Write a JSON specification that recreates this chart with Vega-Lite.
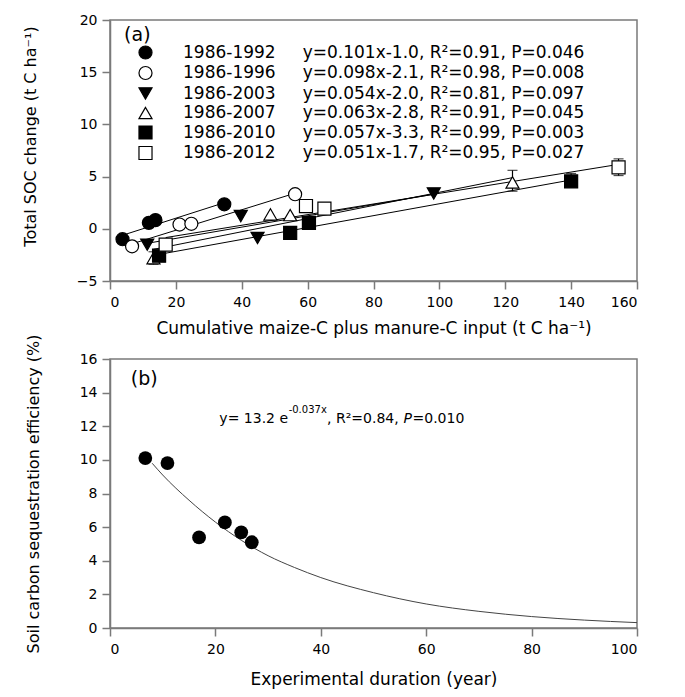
{
  "$schema": "https://vega.github.io/schema/vega-lite/v6.json",
  "background": "white",
  "padding": {"left": 21, "top": 12, "right": 5, "bottom": 5},
  "bounds": "flush",
  "spacing": 78,
  "config": {
    "font": "DejaVu Sans",
    "view": {"stroke": "#7a7a7a", "strokeWidth": 1.5},
    "axis": {
      "grid": false, "domainColor": "#7a7a7a", "domainWidth": 1.5,
      "tickColor": "#7a7a7a", "tickWidth": 1.5, "tickSize": 8, "labelOverlap": false,
      "labelFont": "DejaVu Sans", "labelFontSize": 14, "labelColor": "black", "labelPadding": 5,
      "titleFont": "DejaVu Sans", "titleFontWeight": "normal", "titleColor": "black"
    },
    "legend": {
      "title": null, "padding": 0,
      "labelFontSize": 17, "labelFont": "DejaVu Sans", "labelLimit": 700, "labelColor": "black",
      "symbolSize": 170, "symbolStrokeWidth": 1.2, "rowPadding": 1.5, "labelOffset": 29
    }
  },
  "datasets": {
    "pts": [
      {"period": "1986-1992", "x": 3.8, "y": -1.0},
      {"period": "1986-1992", "x": 11.8, "y": 0.57},
      {"period": "1986-1992", "x": 13.8, "y": 0.83},
      {"period": "1986-1992", "x": 34.7, "y": 2.35},
      {"period": "1986-1996", "x": 6.7, "y": -1.68},
      {"period": "1986-1996", "x": 21.1, "y": 0.41},
      {"period": "1986-1996", "x": 24.7, "y": 0.48},
      {"period": "1986-1996", "x": 56.2, "y": 3.31},
      {"period": "1986-2003", "x": 11.3, "y": -1.52},
      {"period": "1986-2003", "x": 39.7, "y": 1.22},
      {"period": "1986-2003", "x": 44.8, "y": -0.88},
      {"period": "1986-2003", "x": 98.3, "y": 3.38},
      {"period": "1986-2007", "x": 13.2, "y": -2.81},
      {"period": "1986-2007", "x": 48.7, "y": 1.38},
      {"period": "1986-2007", "x": 54.7, "y": 1.31},
      {"period": "1986-2007", "x": 122.2, "y": 4.44},
      {"period": "1986-2010", "x": 14.9, "y": -2.58},
      {"period": "1986-2010", "x": 54.7, "y": -0.39},
      {"period": "1986-2010", "x": 60.4, "y": 0.57},
      {"period": "1986-2010", "x": 140.0, "y": 4.54},
      {"period": "1986-2012", "x": 16.9, "y": -1.52},
      {"period": "1986-2012", "x": 59.5, "y": 2.18},
      {"period": "1986-2012", "x": 65.1, "y": 1.93},
      {"period": "1986-2012", "x": 154.4, "y": 5.89}
    ],
    "fits": [
      {"period": "1986-1992", "x": 3.8, "y": -0.62},
      {"period": "1986-1992", "x": 34.7, "y": 2.5},
      {"period": "1986-1996", "x": 6.7, "y": -1.44},
      {"period": "1986-1996", "x": 56.2, "y": 3.41},
      {"period": "1986-2003", "x": 11.3, "y": -1.39},
      {"period": "1986-2003", "x": 98.3, "y": 3.31},
      {"period": "1986-2007", "x": 13.2, "y": -1.97},
      {"period": "1986-2007", "x": 122.2, "y": 4.9},
      {"period": "1986-2010", "x": 14.9, "y": -2.45},
      {"period": "1986-2010", "x": 140.0, "y": 4.68},
      {"period": "1986-2012", "x": 16.9, "y": -0.84},
      {"period": "1986-2012", "x": 154.4, "y": 6.17}
    ],
    "errs": [
      {"period": "1986-2007", "x": 13.2, "lo": -3.4, "hi": -2.2},
      {"period": "1986-2010", "x": 54.7, "lo": -0.95, "hi": 0.1},
      {"period": "1986-2007", "x": 122.2, "lo": 3.6, "hi": 5.6},
      {"period": "1986-2010", "x": 140.0, "lo": 4.3, "hi": 5.3},
      {"period": "1986-2012", "x": 154.4, "lo": 5.1, "hi": 6.7}
    ],
    "eff": [
      {"x": 6.7, "y": 10.11},
      {"x": 10.9, "y": 9.81},
      {"x": 16.9, "y": 5.39},
      {"x": 21.8, "y": 6.28},
      {"x": 24.9, "y": 5.69},
      {"x": 26.9, "y": 5.1}
    ],
    "curve": [
      {"x": 8, "y": 9.8},
      {"x": 10, "y": 9.1},
      {"x": 15, "y": 7.6},
      {"x": 20, "y": 6.3},
      {"x": 25, "y": 5.2},
      {"x": 30, "y": 4.3},
      {"x": 35, "y": 3.6},
      {"x": 40, "y": 3.0},
      {"x": 50, "y": 2.1},
      {"x": 60, "y": 1.43},
      {"x": 70, "y": 0.99},
      {"x": 80, "y": 0.68},
      {"x": 90, "y": 0.47},
      {"x": 100, "y": 0.32}
    ]
  },
  "vconcat": [
    {
      "width": 527,
      "height": 261,
      "layer": [
        {
          "data": {"name": "fits"},
          "mark": {"type": "line", "color": "black", "strokeWidth": 1},
          "encoding": {
            "x": {"field": "x", "type": "quantitative", "scale": {"domain": [0, 160], "nice": false},
                  "axis": {"values": [0, 20, 40, 60, 80, 100, 120, 140, 160], "title": "Cumulative maize-C plus manure-C input (t C ha⁻¹)", "titleFontSize": 17, "labelPadding": 6, "titlePadding": 11}},
            "y": {"field": "y", "type": "quantitative", "scale": {"domain": [-5, 20], "nice": false, "zero": false},
                  "axis": {"values": [-5, 0, 5, 10, 15, 20], "title": "Total SOC change (t C ha⁻¹)", "titleFontSize": 16, "titlePadding": 38, "titleY": 116}},
            "detail": {"field": "period"}
          }
        },
        {
          "data": {"name": "errs"},
          "mark": {"type": "errorbar", "color": "black", "size": 10, "thickness": 1.2, "ticks": true},
          "encoding": {
            "x": {"field": "x", "type": "quantitative", "title": "Cumulative maize-C plus manure-C input (t C ha⁻¹)"},
            "y": {"field": "lo", "type": "quantitative", "title": "Total SOC change (t C ha⁻¹)"},
            "y2": {"field": "hi"}
          }
        },
        {
          "data": {"name": "pts"},
          "mark": {"type": "point", "filled": true, "size": 170, "strokeWidth": 1.2, "opacity": 1},
          "encoding": {
            "x": {"field": "x", "type": "quantitative", "title": "Cumulative maize-C plus manure-C input (t C ha⁻¹)"},
            "y": {"field": "y", "type": "quantitative", "title": "Total SOC change (t C ha⁻¹)"},
            "shape": {"field": "period", "type": "nominal",
              "scale": {"domain": ["1986-1992", "1986-1996", "1986-2003", "1986-2007", "1986-2010", "1986-2012"], "range": ["circle", "circle", "triangle-down", "triangle-up", "square", "square"]},
              "legend": {"orient": "none", "legendX": 27, "legendY": 24,
                "labelExpr": "datum.label=='1986-1992' ? '1986-1992\u00a0\u00a0\u00a0\u00a0\u00a0y=0.101x-1.0, R²=0.91, P=0.046' : datum.label=='1986-1996' ? '1986-1996\u00a0\u00a0\u00a0\u00a0\u00a0y=0.098x-2.1, R²=0.98, P=0.008' : datum.label=='1986-2003' ? '1986-2003\u00a0\u00a0\u00a0\u00a0\u00a0y=0.054x-2.0, R²=0.81, P=0.097' : datum.label=='1986-2007' ? '1986-2007\u00a0\u00a0\u00a0\u00a0\u00a0y=0.063x-2.8, R²=0.91, P=0.045' : datum.label=='1986-2010' ? '1986-2010\u00a0\u00a0\u00a0\u00a0\u00a0y=0.057x-3.3, R²=0.99, P=0.003' : '1986-2012\u00a0\u00a0\u00a0\u00a0\u00a0y=0.051x-1.7, R²=0.95, P=0.027'"}},
            "fill": {"field": "period", "type": "nominal",
              "scale": {"domain": ["1986-1992", "1986-1996", "1986-2003", "1986-2007", "1986-2010", "1986-2012"], "range": ["black", "white", "black", "white", "black", "white"]},
              "legend": {"orient": "none", "legendX": 27, "legendY": 24,
                "labelExpr": "datum.label=='1986-1992' ? '1986-1992\u00a0\u00a0\u00a0\u00a0\u00a0y=0.101x-1.0, R²=0.91, P=0.046' : datum.label=='1986-1996' ? '1986-1996\u00a0\u00a0\u00a0\u00a0\u00a0y=0.098x-2.1, R²=0.98, P=0.008' : datum.label=='1986-2003' ? '1986-2003\u00a0\u00a0\u00a0\u00a0\u00a0y=0.054x-2.0, R²=0.81, P=0.097' : datum.label=='1986-2007' ? '1986-2007\u00a0\u00a0\u00a0\u00a0\u00a0y=0.063x-2.8, R²=0.91, P=0.045' : datum.label=='1986-2010' ? '1986-2010\u00a0\u00a0\u00a0\u00a0\u00a0y=0.057x-3.3, R²=0.99, P=0.003' : '1986-2012\u00a0\u00a0\u00a0\u00a0\u00a0y=0.051x-1.7, R²=0.95, P=0.027'"}},
            "stroke": {"field": "period", "type": "nominal",
              "scale": {"domain": ["1986-1992", "1986-1996", "1986-2003", "1986-2007", "1986-2010", "1986-2012"], "range": ["black", "black", "black", "black", "black", "black"]},
              "legend": {"orient": "none", "legendX": 27, "legendY": 24,
                "labelExpr": "datum.label=='1986-1992' ? '1986-1992\u00a0\u00a0\u00a0\u00a0\u00a0y=0.101x-1.0, R²=0.91, P=0.046' : datum.label=='1986-1996' ? '1986-1996\u00a0\u00a0\u00a0\u00a0\u00a0y=0.098x-2.1, R²=0.98, P=0.008' : datum.label=='1986-2003' ? '1986-2003\u00a0\u00a0\u00a0\u00a0\u00a0y=0.054x-2.0, R²=0.81, P=0.097' : datum.label=='1986-2007' ? '1986-2007\u00a0\u00a0\u00a0\u00a0\u00a0y=0.063x-2.8, R²=0.91, P=0.045' : datum.label=='1986-2010' ? '1986-2010\u00a0\u00a0\u00a0\u00a0\u00a0y=0.057x-3.3, R²=0.99, P=0.003' : '1986-2012\u00a0\u00a0\u00a0\u00a0\u00a0y=0.051x-1.7, R²=0.95, P=0.027'"}}
          }
        },
        {
          "data": {"values": [{"t": "(a)"}]},
          "mark": {"type": "text", "fontSize": 19, "align": "center", "baseline": "middle", "color": "black"},
          "encoding": {"x": {"datum": 8.3}, "y": {"datum": 18.6}, "text": {"field": "t"}}
        }
      ]
    },
    {
      "width": 527,
      "height": 269,
      "encoding": {
        "x": {"type": "quantitative", "scale": {"domain": [0, 100], "nice": false},
              "axis": {"values": [0, 20, 40, 60, 80, 100], "labelOverlap": false, "title": "Experimental duration (year)", "titleFontSize": 17, "labelPadding": 6, "titlePadding": 15}},
        "y": {"type": "quantitative", "scale": {"domain": [0, 16], "nice": false},
              "axis": {"values": [0, 2, 4, 6, 8, 10, 12, 14, 16], "tickCount": 9, "labelOverlap": false, "title": "Soil carbon sequestration efficiency (%)", "titleFontSize": 16, "titlePadding": 38}}
      },
      "layer": [
        {
          "data": {"name": "curve"},
          "mark": {"type": "line", "color": "#444444", "strokeWidth": 1, "interpolate": "monotone"},
          "encoding": {"x": {"field": "x"}, "y": {"field": "y"}}
        },
        {
          "data": {"name": "eff"},
          "mark": {"type": "circle", "size": 190, "color": "black", "opacity": 1},
          "encoding": {"x": {"field": "x"}, "y": {"field": "y"}}
        },
        {
          "data": {"values": [{"t": "(b)"}]},
          "mark": {"type": "text", "fontSize": 19, "align": "center", "baseline": "middle", "color": "black"},
          "encoding": {"x": {"datum": 6.5}, "y": {"datum": 14.8}, "text": {"field": "t"}}
        },
        {
          "data": {"values": [{"t": "y= 13.2 e"}]},
          "mark": {"type": "text", "fontSize": 14, "align": "left", "baseline": "middle", "color": "black"},
          "encoding": {"x": {"datum": 20.75}, "y": {"datum": 12.43}, "text": {"field": "t"}}
        },
        {
          "data": {"values": [{"t": "-0.037x"}]},
          "mark": {"type": "text", "fontSize": 10, "align": "left", "baseline": "middle", "color": "black"},
          "encoding": {"x": {"datum": 33.9}, "y": {"datum": 12.95}, "text": {"field": "t"}}
        },
        {
          "data": {"values": [{"t": ", R²=0.84,"}]},
          "mark": {"type": "text", "fontSize": 14, "align": "left", "baseline": "middle", "color": "black"},
          "encoding": {"x": {"datum": 41.2}, "y": {"datum": 12.43}, "text": {"field": "t"}}
        },
        {
          "data": {"values": [{"t": "P"}]},
          "mark": {"type": "text", "fontSize": 14, "fontStyle": "italic", "align": "left", "baseline": "middle", "color": "black"},
          "encoding": {"x": {"datum": 55.7}, "y": {"datum": 12.43}, "text": {"field": "t"}}
        },
        {
          "data": {"values": [{"t": "=0.010"}]},
          "mark": {"type": "text", "fontSize": 14, "align": "left", "baseline": "middle", "color": "black"},
          "encoding": {"x": {"datum": 57.4}, "y": {"datum": 12.43}, "text": {"field": "t"}}
        }
      ]
    }
  ]
}
